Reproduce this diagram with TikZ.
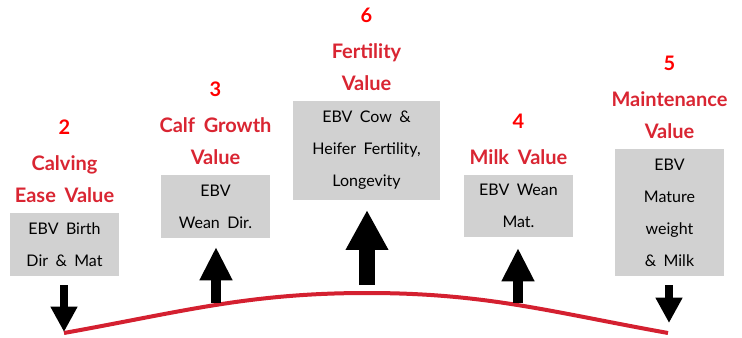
\documentclass[tikz,border=0pt]{standalone}
\usepackage{fontspec}
\setmainfont{Lato}[WordSpace=1.8]
\usetikzlibrary{arrows.meta,positioning}
\definecolor{numred}{RGB}{255,0,0}
\definecolor{headred}{RGB}{217,37,50}
\definecolor{curvered}{RGB}{212,32,48}
\definecolor{boxgray}{RGB}{209,209,209}

\begin{document}
\begin{tikzpicture}[x=0.75pt,y=-0.75pt,
	ebvbox/.style={fill=boxgray, inner sep=0pt, align=center, minimum width=81.75pt, font=\fontsize{12}{24}\selectfont},
	valuehead/.style={inner sep=0pt, align=center, text=headred, font=\bfseries\fontsize{15}{24}\selectfont},
	smallarrow/.style={line width=6pt, -{Triangle[width=19pt,length=19pt]}},
	midarrow/.style={line width=7.5pt, -{Triangle[width=23pt,length=25pt]}},
	bigarrow/.style={line width=12pt, -{Triangle[width=30pt,length=30pt]}}]
		\useasboundingbox (0,0) rectangle (742,338);
		\node[ebvbox, minimum height=47.25pt] (ebvbirth) at (64.5,244.5) {EBV Birth\\Dir \& Mat};
		\node[ebvbox, minimum height=47.25pt] (ebvweandir) at (215.5,206.5) {EBV\\Wean Dir.};
		\node[ebvbox, minimum width=110.25pt, minimum height=74.25pt] (ebvfertility) at (366.5,150.5) {EBV Cow \&\\Heifer Fertility,\\Longevity};
		\node[ebvbox, minimum height=46.5pt] (ebvweanmat) at (518.5,206) {EBV Wean\\Mat.};
		\node[ebvbox, minimum height=95.25pt] (ebvmature) at (669.5,212.5) {EBV\\Mature\\weight\\\& Milk};
		\node[valuehead, above=7pt of ebvbirth] (calving) {\textcolor{numred}{2}\\[3pt]Calving\\Ease Value};
		\node[valuehead, above=7pt of ebvweandir] (calfgrowth) {\textcolor{numred}{3}\\[3pt]Calf Growth\\Value};
		\node[valuehead, above=7pt of ebvfertility] (fertility) {\textcolor{numred}{6}\\[3pt]Fertility\\Value};
		\node[valuehead, above=7pt of ebvweanmat] (milk) {\textcolor{numred}{4}\\[3pt]Milk Value};
		\node[valuehead, above=7pt of ebvmature] (maintenance) {\textcolor{numred}{5}\\[3pt]Maintenance\\Value};
		% the curve
		\coordinate (curveleft) at (64,333);
		\coordinate (curvetop) at (367,293);
		\coordinate (curveright) at (668,333);
		\draw[curvered, line width=3pt] (curveleft) .. controls +(117,-21) and +(-119,0) .. (curvetop)
			.. controls +(119,0) and +(-117,-21) .. (curveright);
		% arrows
		\coordinate (birthtop) at (64,285);
		\coordinate (birthtip) at (64,332);
		\coordinate (weandirbase) at (216,303);
		\coordinate (weandirtip) at (216,247);
		\coordinate (fertilitybase) at (367,285);
		\coordinate (fertilitytip) at (367,210);
		\coordinate (weanmatbase) at (518,303);
		\coordinate (weanmattip) at (518,248);
		\coordinate (maturetop) at (669,285);
		\coordinate (maturetip) at (669,323);
		\draw[smallarrow] (birthtop) -- (birthtip);
		\draw[midarrow] (weandirbase) -- (weandirtip);
		\draw[bigarrow] (fertilitybase) -- (fertilitytip);
		\draw[midarrow] (weanmatbase) -- (weanmattip);
		\draw[smallarrow] (maturetop) -- (maturetip);
\end{tikzpicture}
\end{document}
